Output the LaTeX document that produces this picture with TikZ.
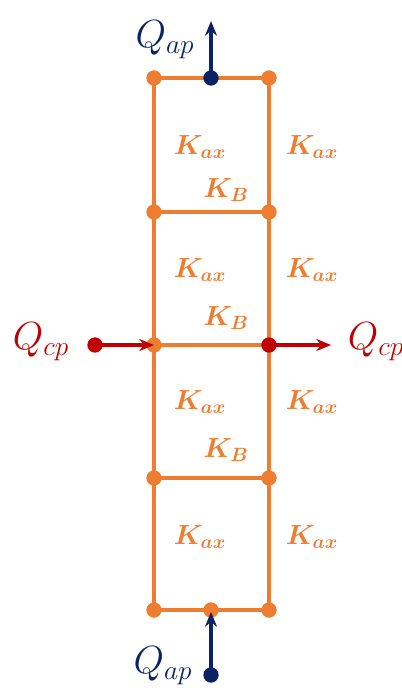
\documentclass[tikz,border=0pt]{standalone}
\usepackage{amsmath,bm,graphicx}
\usetikzlibrary{arrows.meta}
\definecolor{orng}{HTML}{ED7D31}
\definecolor{navy}{HTML}{0A2463}
\definecolor{dred}{HTML}{C00000}
\newcommand\qtext[1]{\scalebox{1.42}{$#1$}}
\begin{document}
\begin{tikzpicture}[x=0.75pt,y=-0.75pt,
  beam/.style={draw=orng,line width=3pt},
  odot/.style={circle,fill=orng,inner sep=0pt,minimum size=11.5pt},
  ndot/.style={circle,fill=navy,inner sep=0pt,minimum size=11.5pt},
  rdot/.style={circle,fill=dred,inner sep=0pt,minimum size=11.5pt},
  klab/.style={text=orng,font=\fontsize{20.74}{25}\selectfont,inner sep=0pt},
  qlab/.style={font=\fontsize{20.74}{25}\selectfont,inner sep=0pt},
  narrow/.style={draw=navy,line width=2.6pt,-{Stealth[length=11pt,width=9pt]}},
  rarrow/.style={draw=dred,line width=2.4pt,-{Stealth[length=11pt,width=9pt]}}]
\useasboundingbox (0,0) rectangle (402,692);
% frame coordinates
\foreach \r/\y in {0/78,1/212,2/345,3/478,4/610}{
  \coordinate (L\r) at (154,\y);
  \coordinate (R\r) at (269,\y);
}
\coordinate (T) at (211,78);
\coordinate (B) at (211,610);
\draw[beam] (L0) -- (L4) (R0) -- (R4);
\foreach \r in {0,1,2,3,4}{\draw[beam] (L\r) -- (R\r);}
\foreach \r in {0,1,3,4}{\node[odot] at (L\r) {}; \node[odot] at (R\r) {};}
\node[odot] at (L2) {};
\node[odot] (bm) at (B) {};
% top load
\node[ndot] (tn) at (T) {};
\coordinate (tt) at (211,21);
\draw[narrow] (tn.center) -- (tt);
\node[qlab,text=navy] (qt) at (165,40) {\qtext{Q_{ap}}};
% bottom load
\node[ndot] (bn) at (211,675) {};
\coordinate (bt) at (211,612);
\draw[narrow] (bn.center) -- (bt);
\node[qlab,text=navy] (qb) at (163,666) {\qtext{Q_{ap}}};
% horizontal loads
\node[rdot] (ln) at (95,345) {};
\draw[rarrow] (ln.center) -- (L2);
\node[rdot] (rn) at (R2) {};
\coordinate (re) at (331,345);
\draw[rarrow] (rn.center) -- (re);
\node[qlab,text=dred] (ql) at (41,342) {\qtext{Q_{cp}}};
\node[qlab,text=dred] (qr) at (376,342) {\qtext{Q_{cp}}};
% stiffness labels
\foreach \y [count=\i] in {147,270,402,537}{
  \node[klab] (ki\i) at (200,\y) {$\bm{K_{ax}}$};
  \node[klab] (ko\i) at (312,\y) {$\bm{K_{ax}}$};
}
\foreach \y [count=\i] in {190,318,450}{
  \node[klab] (kb\i) at (226,\y) {$\bm{K_{B}}$};
}
\end{tikzpicture}
\end{document}
